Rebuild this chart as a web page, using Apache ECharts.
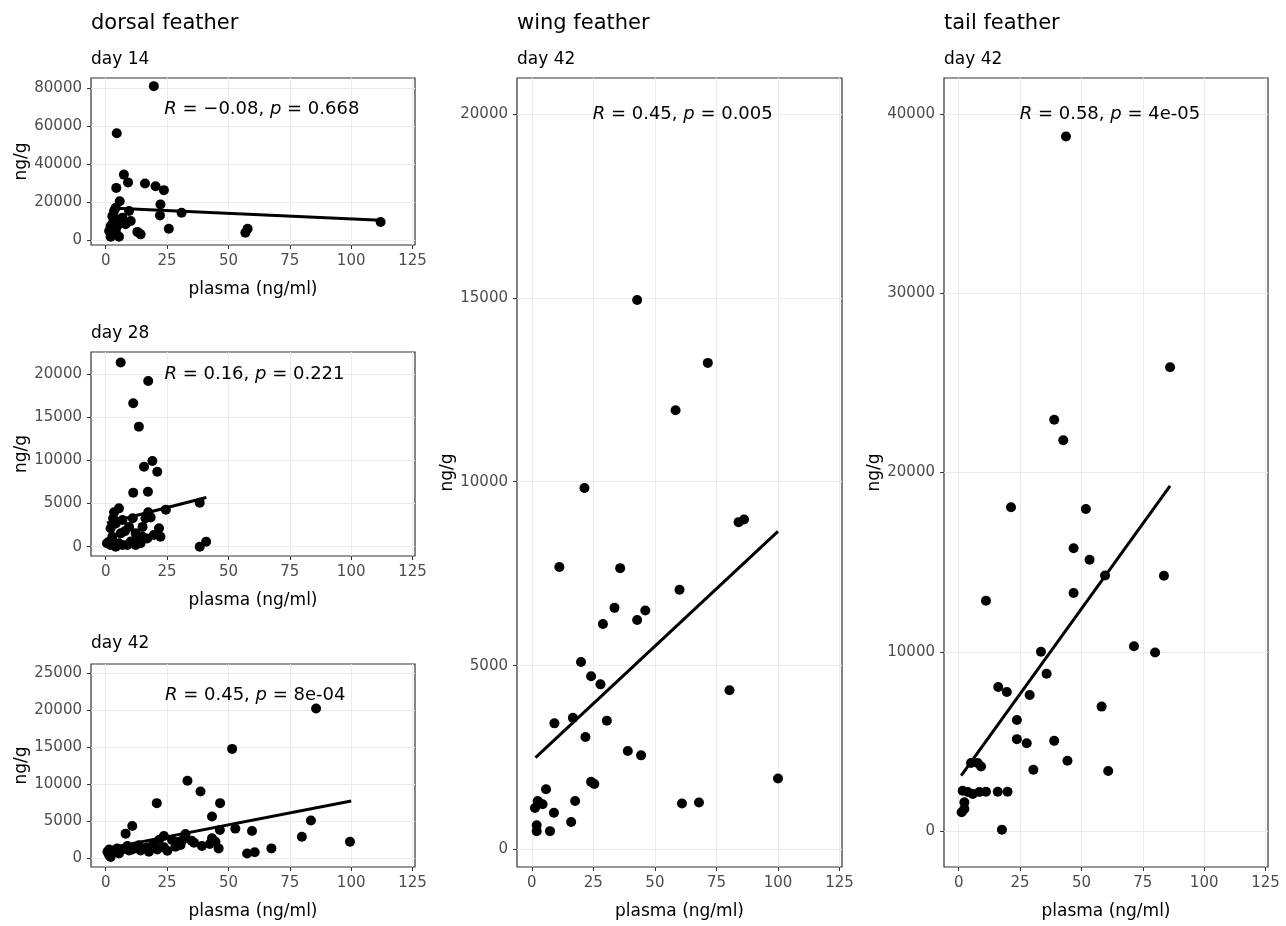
<!DOCTYPE html>
<html>
<head>
<meta charset="utf-8">
<script src="https://cdn.jsdelivr.net/npm/echarts@6/dist/echarts.min.js"></script>
<style>
  html, body { margin: 0; background: #fff; }
  #chart { width: 1286px; height: 926px; }
</style>
</head>
<body>
<div id="chart"></div>
<script>
// tick labels
const xTicks = [0, 25, 50, 75, 100, 125];
const yTicks14 = [0, 20000, 40000, 60000, 80000];
const yTicks28 = [0, 5000, 10000, 15000, 20000];
const yTicks42 = [0, 5000, 10000, 15000, 20000, 25000];
const yTicksWing = [0, 5000, 10000, 15000, 20000];
const yTicksTail = [0, 10000, 20000, 30000, 40000];

// [plasma, feather] pairs
const dorsal14 = [[19.6,81200],[4.5,56400],[7.4,34600],[9.1,30500],[4.3,27600],[16.0,29900],[20.3,28500],[23.7,26400],[5.7,20600],[4.1,17100],[22.3,18900],[22.1,13100],[9.5,15400],[30.9,14500],[3.4,15400],[10.2,10100],[6.8,11900],[4.7,11000],[2.0,7500],[2.7,12700],[25.7,6100],[12.9,4400],[14.2,3100],[2.0,1900],[5.4,1900],[4.1,4900],[1.4,4900],[4.7,7500],[8.1,8400],[3.0,9500],[56.9,4000],[57.8,6100],[112.0,9600]];
const dorsal28 = [[6.1,21350],[17.3,19220],[11.2,16630],[13.5,13920],[19.0,9940],[15.6,9280],[21.0,8700],[11.2,6270],[17.2,6380],[38.3,5100],[38.3,0],[40.9,580],[5.4,4450],[3.4,4000],[17.3,4000],[16.2,3300],[18.3,3400],[6.8,3100],[4.1,2700],[9.5,2300],[2.0,2150],[15.0,2300],[21.7,2150],[22.3,1150],[19.6,1350],[15.0,1150],[16.9,950],[2.7,1150],[6.1,1550],[12.2,1550],[1.4,590],[5.4,400],[8.8,200],[12.2,200],[14.2,400],[4.1,0],[6.8,200],[10.2,600],[2.0,200],[0.5,400],[7.8,1800],[11.0,3300],[12.9,800],[3.0,3300],[24.5,4300]];
const dorsal42 = [[85.7,20230],[51.5,14750],[33.3,10430],[38.6,8980],[20.8,7400],[46.6,7400],[43.3,5580],[83.6,5040],[10.8,4310],[8.1,3270],[52.8,3950],[46.5,3770],[59.6,3620],[79.9,2860],[99.5,2180],[67.5,1270],[57.6,590],[60.7,750],[46.0,1270],[39.2,1590],[35.0,2310],[32.5,3220],[23.7,2950],[27.0,2400],[29.5,2130],[31.3,2400],[36.0,2040],[43.3,2630],[44.7,2180],[42.4,1860],[21.7,2400],[19.6,1950],[16.9,1410],[17.6,820],[21.0,1130],[25.1,950],[28.4,1500],[23.7,1410],[13.5,1680],[14.2,1000],[10.8,1130],[8.8,1590],[6.8,1130],[4.7,1270],[3.4,1000],[1.4,1130],[1.4,360],[2.0,100],[5.4,590],[9.5,1000],[12.2,1400],[0.7,800],[30.5,1720]];
const wing42 = [[42.8,14940],[71.5,13230],[58.4,11940],[21.4,9830],[84.0,8900],[86.2,8970],[11.2,7680],[35.9,7650],[60.0,7060],[33.6,6570],[46.1,6500],[42.8,6240],[28.9,6130],[20.0,5100],[24.1,4710],[27.9,4490],[80.3,4330],[16.7,3580],[9.2,3430],[30.5,3500],[21.8,3060],[39.0,2680],[44.4,2560],[100.0,1930],[24.1,1840],[25.4,1780],[5.8,1640],[17.6,1320],[61.0,1250],[67.9,1280],[2.4,1320],[1.3,1130],[4.4,1230],[3.0,1280],[9.0,1000],[16.0,750],[2.0,660],[2.0,500],[7.4,500]];
const tail42 = [[43.7,38740],[86.1,25870],[38.9,22940],[42.6,21800],[21.3,18060],[51.8,17960],[46.8,15780],[53.3,15130],[59.6,14260],[83.6,14240],[46.8,13280],[11.1,12850],[33.5,10000],[71.4,10310],[80.0,9960],[35.8,8780],[16.1,8040],[19.6,7760],[28.9,7590],[58.2,6945],[23.7,6200],[23.7,5130],[38.9,5035],[27.7,4906],[44.3,3925],[30.4,3425],[60.9,3350],[5.0,3800],[7.7,3800],[9.1,3600],[1.6,2250],[3.7,2180],[5.7,2070],[8.4,2180],[11.1,2200],[15.9,2200],[19.9,2200],[2.3,1610],[1.2,1055],[2.3,1240],[17.6,80]];

// fitted line end points
const fit14 = [[2, 17000], [112, 10600]];
const fit28 = [[0.5, 2750], [41, 5700]];
const fit42 = [[0.7, 1270], [100, 7700]];
const fitWing = [[1.5, 2500], [100, 8650]];
const fitTail = [[1, 3100], [86.1, 19250]];

// correlation text
const corR = ['\u22120.08', '0.16', '0.45', '0.45', '0.58'];
const corP = ['0.668', '0.221', '8e-04', '0.005', '4e-05'];

const FONT = 'DejaVu Sans';

const panels = [
    { grid: { left: 91, top: 78, width: 324, height: 167 }, yMin: -2500, yMax: 85500, yTicks: yTicks14, pts: dorsal14, fit: fit14, at: [63.6, 69150] },
    { grid: { left: 91, top: 352, width: 324, height: 204 }, yMin: -1075, yMax: 22575, yTicks: yTicks28, pts: dorsal28, fit: fit28, at: [60.6, 20000] },
    { grid: { left: 91, top: 664, width: 324, height: 203 }, yMin: -1250, yMax: 26250, yTicks: yTicks42, pts: dorsal42, fit: fit42, at: [60.9, 22000] },
    { grid: { left: 517, top: 78, width: 325, height: 789 }, yMin: -475, yMax: 20975, yTicks: yTicksWing, pts: wing42, fit: fitWing, at: [61.3, 20000] },
    { grid: { left: 944, top: 78, width: 324, height: 789 }, yMin: -2000, yMax: 42000, yTicks: yTicksTail, pts: tail42, fit: fitTail, at: [61.6, 40000] }
];

const grids = [], xAxes = [], yAxes = [], series = [];

panels.forEach(function (p, i) {
    grids.push(Object.assign({ show: true, borderColor: '#333', borderWidth: 1.2, backgroundColor: 'transparent' }, p.grid));

    xAxes.push({
        type: 'value', gridIndex: i, min: -6, max: 126,
        name: 'plasma (ng/ml)', nameLocation: 'middle', nameGap: 36,
        nameTextStyle: { color: '#000', fontSize: 17, fontFamily: FONT },
        axisLine: { show: false, onZero: false },
        axisTick: { show: true, length: 4, customValues: xTicks, lineStyle: { color: '#333' } },
        axisLabel: { customValues: xTicks, color: '#4d4d4d', fontSize: 15, fontFamily: FONT, margin: 9, formatter: function (v) { return String(v); } },
        splitLine: { show: true, lineStyle: { color: '#ebebeb', width: 1 } }
    });

    yAxes.push({
        type: 'value', gridIndex: i, min: p.yMin, max: p.yMax,
        name: 'ng/g', nameLocation: 'middle', nameGap: 61, nameRotate: 90,
        nameTextStyle: { color: '#000', fontSize: 17, fontFamily: FONT },
        axisLine: { show: false, onZero: false },
        axisTick: { show: true, length: 4, customValues: p.yTicks, lineStyle: { color: '#333' } },
        axisLabel: { customValues: p.yTicks, color: '#4d4d4d', fontSize: 15, fontFamily: FONT, margin: 9, formatter: function (v) { return String(v); } },
        splitLine: { show: true, lineStyle: { color: '#ebebeb', width: 1 } }
    });

    series.push({
        type: 'scatter', xAxisIndex: i, yAxisIndex: i, data: p.pts,
        symbolSize: 10, itemStyle: { color: '#000', opacity: 1 }, silent: true
    });
    series.push({
        type: 'line', xAxisIndex: i, yAxisIndex: i, data: p.fit,
        showSymbol: false, lineStyle: { color: '#000', width: 3 }, silent: true, z: 3
    });
    series.push({
        type: 'scatter', xAxisIndex: i, yAxisIndex: i, data: [p.at],
        symbolSize: 0, itemStyle: { color: 'transparent', opacity: 1 }, silent: true,
        label: {
            show: true, position: 'inside',
            formatter: '{i|R} = ' + corR[i] + ', {i|p} = ' + corP[i],
            color: '#000', fontSize: 18, fontFamily: FONT,
            rich: { i: { fontStyle: 'italic', fontSize: 18, fontFamily: FONT, color: '#000' } }
        }
    });
});

function heading(text, left, top, size) {
    return { text: text, left: left, top: top, padding: 0, textStyle: { color: '#000', fontSize: size, fontWeight: 'normal', fontFamily: FONT } };
}

const titles = [
    heading('dorsal feather', 91, 13, 21),
    heading('day 14', 91, 51, 17),
    heading('day 28', 91, 325, 17),
    heading('day 42', 91, 635, 17),
    heading('wing feather', 517, 13, 21),
    heading('day 42', 517, 51, 17),
    heading('tail feather', 944, 13, 21),
    heading('day 42', 944, 51, 17)
];

const chart = echarts.init(document.getElementById('chart'));
chart.setOption({
    backgroundColor: '#fff',
    animation: false,
    title: titles,
    grid: grids,
    xAxis: xAxes,
    yAxis: yAxes,
    series: series
});
</script>
</body>
</html>
